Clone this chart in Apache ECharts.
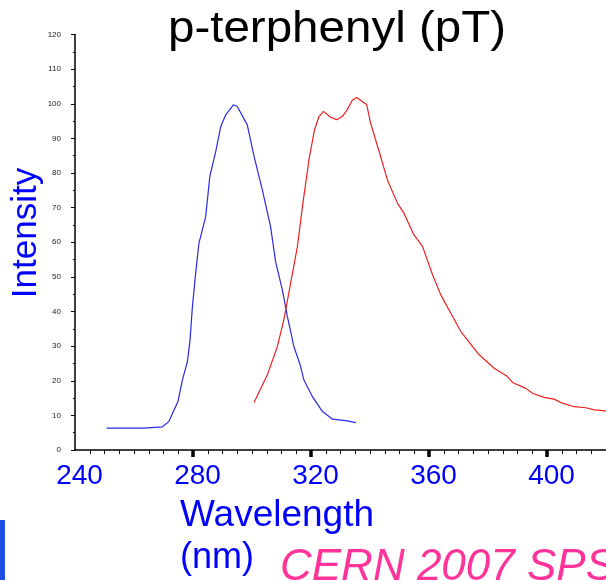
<!DOCTYPE html>
<html>
<head>
<meta charset="utf-8">
<script src="https://cdn.jsdelivr.net/npm/echarts@6/dist/echarts.min.js"></script>
<style>html,body{margin:0;padding:0;background:#fff;}#c{width:606px;height:580px;}</style>
</head>
<body>
<div id="c"></div>
<script>
// Absorption (blue) spectrum: wavelength (nm) and intensity
const absWavelength = [250.7,263.3,269.6,271.8,274.9,276.4,278.1,279.0,279.8,280.9,282.0,284.3,285.7,287.7,289.4,291.1,293.7,295.0,298.4,300.7,303.5,306.3,308.0,310.3,312.0,314.2,316.5,317.6,320.5,323.9,327.3,332.3,335.2];
const absIntensity  = [6.3,6.3,6.7,8.2,14,20.2,25.5,31.8,41.4,51,59.7,67.4,79,86.2,93.4,96.8,99.7,99.2,93.9,84.8,75.1,64.5,54.4,46.2,38.5,29.9,24.1,20.2,15.4,11.1,8.9,8.4,7.9];
// Emission (red) spectrum
const emWavelength = [300.7,305.2,308.6,310.8,313.1,315.4,317.1,319.3,321.2,322.7,324.2,326.7,328.7,330.6,332.3,334.0,335.5,338.9,340.2,343.1,345.9,349.3,351.5,354.9,357.8,361.2,364.0,367.4,370.8,377.0,382.1,386.6,388.3,392.8,395.1,399.0,402.4,404.7,409.2,413.2,416.0,420.0];
const emIntensity  = [13.7,21.7,29.9,37.6,48.2,58.8,70.3,83.8,92.5,96.3,97.8,96.1,95.4,96.3,98.3,101,101.8,99.7,94.4,86.2,78,71.3,68.4,62.1,58.8,50.6,44.8,39.5,34.2,27.5,23.6,21.2,19.5,17.8,16.4,15.2,14.7,13.7,12.5,12.2,11.6,11.3];
// Axis ticks and labels
const xTickLabels = [240,280,320,360,400];
const xMajorTicks = [280,320,360,400];
const xMinorTicks = [245,250,255,260,265,270,275,280,285,290,295,300,305,310,315,320,325,330,335,340,345,350,355,360,365,370,375,380,385,390,395,400,405,410,415,420];
const titleText = 'p-terphenyl (pT)';
const yTitle = 'Intensity';
const xTitle1 = 'Wavelength';
const xTitle2 = '(nm)';
const footerText = 'CERN 2007 SPS';

const zip = (a, b) => a.map((v, i) => [v, b[i]]);
const FONT = '"Liberation Sans", Arial, sans-serif';

const chart = echarts.init(document.getElementById('c'), null, {renderer: 'canvas'});
chart.setOption({
  animation: false,
  backgroundColor: '#ffffff',
  grid: {left: 75, right: 0, top: 34.5, bottom: 130, containLabel: false},
  xAxis: [{
    type: 'value', min: 240, max: 420, position: 'bottom',
    axisLine: {show: true, lineStyle: {color: '#000', width: 1.5}},
    axisTick: {show: true, customValues: xMinorTicks, length: 4, lineStyle: {color: '#000', width: 1}},
    axisLabel: {show: false},
    splitLine: {show: false}
  }, {
    type: 'value', min: 240, max: 420, position: 'bottom',
    axisLine: {show: false},
    axisTick: {show: true, customValues: xMajorTicks, length: 7, lineStyle: {color: '#000', width: 3.5}},
    axisLabel: {show: true, customValues: xTickLabels, color: '#0000ff', fontSize: 28, fontFamily: FONT, margin: 12, padding: [0, 0, 0, 9]},
    splitLine: {show: false}
  }],
  yAxis: {
    type: 'value', min: 0, max: 120, interval: 10,
    axisLine: {show: true, lineStyle: {color: '#000', width: 1.5}},
    axisTick: {show: true, length: 4, lineStyle: {color: '#000', width: 1}},
    minorTick: {show: true, splitNumber: 2, length: 2, lineStyle: {color: '#000', width: 1}},
    axisLabel: {color: '#222', fontSize: 8, fontFamily: FONT, margin: 14},
    splitLine: {show: false}
  },
  series: [{
    type: 'line', xAxisIndex: 0, data: zip(absWavelength, absIntensity),
    showSymbol: false, smooth: false,
    lineStyle: {color: '#2a2ae6', width: 1.2}
  }, {
    type: 'line', xAxisIndex: 0, data: zip(emWavelength, emIntensity),
    showSymbol: false, smooth: false,
    lineStyle: {color: '#ee2020', width: 1.2}
  }],
  graphic: [
    {type: 'text', x: 337, y: 30, scaleX: 1.08, style: {text: titleText, fill: '#000', font: '44px ' + FONT, align: 'center', verticalAlign: 'middle'}},
    {type: 'text', x: 26, y: 233, rotation: Math.PI / 2, style: {text: yTitle, fill: '#0000ff', font: '35px ' + FONT, align: 'center', verticalAlign: 'middle'}},
    {type: 'text', x: 180, y: 516, style: {text: xTitle1, fill: '#0000ff', font: '37px ' + FONT, align: 'left', verticalAlign: 'middle'}},
    {type: 'text', x: 180, y: 558, style: {text: xTitle2, fill: '#0000ff', font: '36px ' + FONT, align: 'left', verticalAlign: 'middle'}},
    {type: 'text', x: 280, y: 568, style: {text: footerText, fill: '#ff3399', font: 'italic 44px ' + FONT, align: 'left', verticalAlign: 'middle'}},
    {type: 'rect', shape: {x: 0, y: 520, width: 5, height: 60}, style: {fill: '#1f4fe0'}}
  ]
});
</script>
</body>
</html>
